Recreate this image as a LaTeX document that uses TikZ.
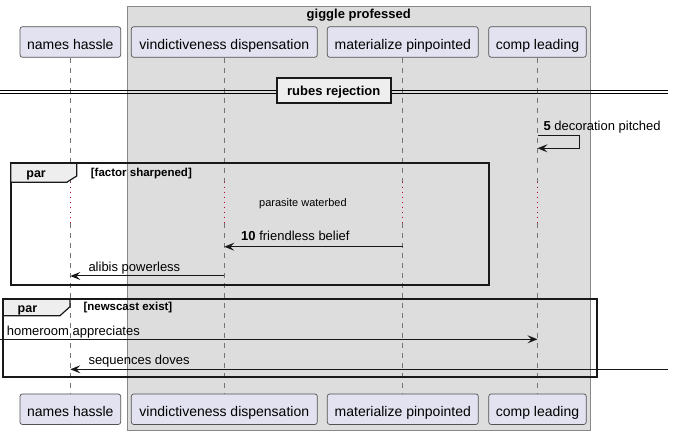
\documentclass[tikz,border=0pt]{standalone}
\usepackage{fontspec}
\setmainfont{Liberation Sans}
\usetikzlibrary{arrows.meta}
\definecolor{partfill}{HTML}{E2E2F0}
\definecolor{partline}{HTML}{181818}
\definecolor{boxfill}{HTML}{DDDDDD}
\definecolor{boxline}{HTML}{888888}
\definecolor{tabfill}{HTML}{EEEEEE}
\definecolor{delayred}{HTML}{B8003A}
\begin{document}
\begin{tikzpicture}[x=1pt,y=-1pt,
  part/.style={draw=partline!75, fill=partfill, rounded corners=2.5pt, line width=0.7pt,
    minimum height=30.6pt, inner sep=0pt, font=\fontsize{14}{16}\selectfont,
    text height=15.5pt, text depth=1.3pt},
  life/.style={draw=partline!60, line width=0.8pt, dash pattern=on 5pt off 5pt},
  delayline/.style={draw=delayred, line width=1pt, dash pattern=on 1pt off 4pt},
  msg/.style={draw=partline, line width=1pt, -{Stealth[length=10pt,width=8pt,inset=4pt]}},
  msgtext/.style={anchor=base west, inner sep=0pt, font=\fontsize{13}{15}\selectfont},
  notetext/.style={anchor=base west, inner sep=0pt, font=\fontsize{11}{13}\selectfont},
  guardtext/.style={anchor=base west, inner sep=0pt, font=\fontsize{11.5}{13}\selectfont\bfseries},
  partag/.style={anchor=base west, inner sep=0pt, font=\fontsize{12.5}{14}\selectfont\bfseries},
  frame/.style={draw=black!90, line width=2pt},
  tab/.style={draw=black!90, line width=1.2pt, fill=tabfill},
  divline/.style={draw=black, line width=0.9pt},
  divlabel/.style={draw=black!90, line width=2pt, fill=tabfill, minimum width=114pt,
    minimum height=25pt, inner sep=0pt, font=\fontsize{13}{15}\selectfont\bfseries,
    text height=11pt, text depth=1.2pt}
]
\useasboundingbox (0,0) rectangle (674,435);
% group box
\draw[fill=boxfill, draw=boxline, line width=0.9pt] (127.3,6.7) rectangle (590,430);
\node[anchor=base, inner sep=0pt, font=\fontsize{13}{15}\selectfont\bfseries] (gtitle) at (358.7,19) {giggle professed};
% participants
\node[part, minimum width=100.7pt] (t1) at (70.35,42) {names hassle};
\node[part, minimum width=186pt] (t2) at (224.3,42) {vindictiveness dispensation};
\node[part, minimum width=151pt] (t3) at (402.8,42) {materialize pinpointed};
\node[part, minimum width=97.5pt] (t4) at (537.5,42) {comp leading};
\node[part, minimum width=100.7pt] (b1) at (70.35,409.2) {names hassle};
\node[part, minimum width=186pt] (b2) at (224.3,409.2) {vindictiveness dispensation};
\node[part, minimum width=151pt] (b3) at (402.8,409.2) {materialize pinpointed};
\node[part, minimum width=97.5pt] (b4) at (537.5,409.2) {comp leading};
% delay limits
\coordinate (dA) at (0,181.7);
\coordinate (dB) at (0,223.3);
% lifelines
\foreach \i in {1,2,3,4}{
  \draw[life] (t\i.south) -- (t\i.south |- dA);
  \draw[delayline] (t\i.south |- dA) -- (t\i.south |- dB);
  \draw[life] (t\i.south |- dB) -- (b\i.north);
}
% divider
\coordinate (dl1) at (0,90.7);
\coordinate (dr1) at (668,90.7);
\coordinate (dl2) at (0,93.3);
\coordinate (dr2) at (668,93.3);
\draw[divline] (dl1) -- (dr1);
\draw[divline] (dl2) -- (dr2);
\node[divlabel] (div) at (333.7,90.8) {rubes rejection};
% self message 5
\coordinate (s5a) at (t4.south |- 0,135.7);
\coordinate (s5b) at (t4.south |- 0,148.3);
\draw[msg] (s5a) -- ++(41.6,0) -- ++(0,12.6) -- (s5b);
\node[msgtext] (l5) at (543.3,130.7) {\textbf{5} decoration pitched};
% par 1
\draw[frame] (10.7,163.3) rectangle (488.5,285);
\draw[tab] (10.7,163.3) -- (76.7,163.3) -- (76.7,176) -- (66.7,182.3) -- (10.7,182.3) -- cycle;
\node[partag] (p1) at (26.2,177.3) {par};
\node[guardtext] (g1) at (90.7,176.7) {[factor sharpened]};
\node[notetext] (n1) at (259,206.7) {parasite waterbed};
\coordinate (m10a) at (t3.south |- 0,246.7);
\coordinate (m10b) at (t2.south |- 0,246.7);
\draw[msg] (m10a) -- (m10b);
\node[msgtext] (l10) at (241,240.7) {\textbf{10} friendless belief};
\coordinate (m11a) at (t2.south |- 0,276);
\coordinate (m11b) at (t1.south |- 0,276);
\draw[msg] (m11a) -- (m11b);
\node[msgtext] (l11) at (88.3,271.7) {alibis powerless};
% par 2
\draw[frame] (3.3,299.3) rectangle (596.7,377.3);
\draw[tab] (3.3,299.3) -- (70,299.3) -- (70,306.7) -- (60,315.7) -- (3.3,315.7) -- cycle;
\node[partag] (p2) at (17.5,312.7) {par};
\node[guardtext] (g2) at (83.3,310.7) {[newscast exist]};
\coordinate (m12a) at (0,339.3);
\coordinate (m12b) at (t4.south |- 0,339.3);
\draw[msg] (m12a) -- (m12b);
\node[msgtext] (l12) at (6.7,335) {homeroom appreciates};
\coordinate (m13a) at (667.7,369.3);
\coordinate (m13b) at (t1.south |- 0,369.3);
\draw[msg] (m13a) -- (m13b);
\node[msgtext] (l13) at (88.3,364.5) {sequences doves};
\end{tikzpicture}
\end{document}
